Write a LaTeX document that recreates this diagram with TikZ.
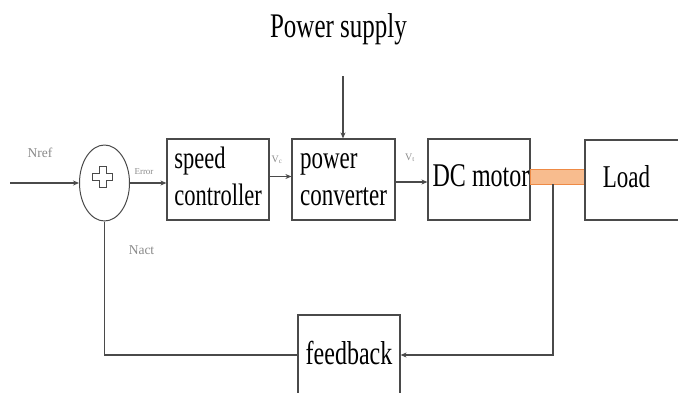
\documentclass[tikz,border=0pt]{standalone}
\usepackage{fontspec}
\usepackage{graphicx}
\setmainfont{Liberation Serif}
\usetikzlibrary{arrows.meta,shapes.geometric}
\definecolor{linec}{HTML}{4A4A4A}
\definecolor{labc}{HTML}{8A8A8A}
\definecolor{shaftfill}{HTML}{F8BC8E}
\definecolor{shaftline}{HTML}{EE8A45}
\newcommand{\bigtxt}[2][23]{\scalebox{1}[1.38]{\fontsize{#1}{27}\selectfont\begin{tabular}{@{}l@{}}#2\end{tabular}}}
\tikzset{
  blk/.style={draw=linec, line width=1.2pt, rectangle, inner sep=0pt, minimum width=102pt, minimum height=81pt, align=left},
  conn/.style={draw=linec, line width=1.1pt},
  arr/.style={conn, -{Stealth[length=6pt,width=5pt]}},
  lab/.style={text=labc, inner sep=0pt},
}
\begin{document}
\begin{tikzpicture}[x=1pt,y=-1pt]
\useasboundingbox (0,0) rectangle (678,392);
\clip (0,0) rectangle (678,392);
% title
\node[inner sep=0pt] (ps) at (338.5,30) {\bigtxt[25]{Power supply}};
\coordinate (psend) at (343,76);
% summing junction
\node[draw=linec, line width=1pt, ellipse, minimum width=50pt, minimum height=76pt, inner sep=0pt] (sum) at (104.5,183) {};
\draw[linec, line width=1pt] (99,166) -- (106,166) -- (106,173.5) -- (112.5,173.5) -- (112.5,180.5) -- (106,180.5) -- (106,187) -- (99,187) -- (99,180.5) -- (92.5,180.5) -- (92.5,173.5) -- (99,173.5) -- cycle;
\coordinate (in) at (10,183);
% blocks
\node[blk] (speed) at (218,179.5) {\bigtxt[22.5]{speed\\controller}};
\node[blk, minimum width=103pt] (pc) at (343.5,179.5) {\bigtxt{power\\converter}};
\node[blk] (dc) at (479,179.5) {\hspace*{4pt}\bigtxt[24]{DC motor}};
\node[draw=shaftline, fill=shaftfill, line width=1pt, rectangle, inner sep=0pt, minimum width=55pt, minimum height=15pt] (shaft) at (557.5,176.5) {};
\node[blk, minimum width=120pt, minimum height=80pt] (load) at (645,180) {};
\node[inner sep=0pt] (loadtxt) at (626.5,180) {\bigtxt{Load}};
\node[blk, minimum width=102pt, minimum height=84pt] (fb) at (349,357) {\bigtxt[24]{feedback}};
% labels
\node[lab, font=\fontsize{13.5}{14}\selectfont] (nref) at (40,153) {Nref};
\node[lab, font=\fontsize{9}{10}\selectfont] (err) at (144,172) {Error};
\node[lab, font=\fontsize{13.5}{14}\selectfont] (nact) at (141.5,250) {Nact};
\node[lab, font=\fontsize{10}{11}\selectfont] (vc) at (277,160) {V$_{\mathrm{c}}$};
\node[lab, font=\fontsize{10}{11}\selectfont] (vt) at (410,158) {V$_{\mathrm{t}}$};
% connectors
\draw[arr] (in) -- (sum.west);
\draw[arr] (sum.east) -- (sum.east -| speed.west);
\draw[arr] ([yshift=3pt]speed.east) -- ([yshift=3pt]pc.west);
\draw[arr] ([yshift=-2.5pt]pc.east) -- ([yshift=-2.5pt]dc.west);
\draw[arr] (psend) -- (psend |- pc.north);
\coordinate (tap) at (553,184);
\draw[arr] (tap) -- (553,355) -- (fb.east |- 0,355);
\draw[conn] (sum.south) -- (104.5,355) -- (fb.west |- 0,355);
\end{tikzpicture}
\end{document}
